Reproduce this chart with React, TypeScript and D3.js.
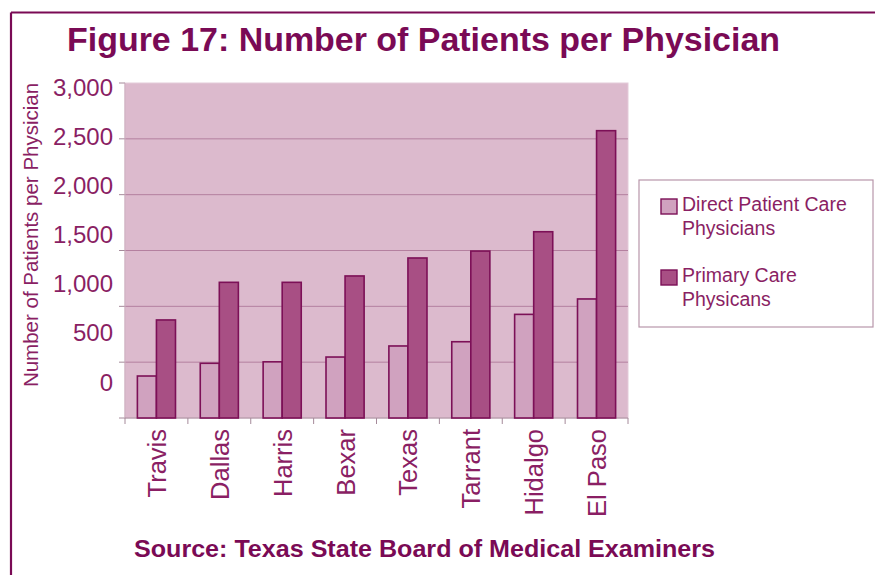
import React from "react";
import * as d3 from "d3";

const categories = ["Travis", "Dallas", "Harris", "Bexar", "Texas", "Tarrant", "Hidalgo", "El Paso"];
const directCare = [376, 490, 503, 546, 645, 683, 928, 1066];
const primaryCare = [878, 1215, 1215, 1272, 1433, 1495, 1668, 2573];
const seriesNames = ["Direct Patient Care|Physicians", "Primary Care|Physicans"];
const yTicks = [0, 500, 1000, 1500, 2000, 2500, 3000];

const W = 875;
const H = 575;
const plot = { left: 125, right: 628, top: 83, bottom: 418 };

const COL_TEXT = "#7a0a55";
const COL_LABEL = "#8a1f64";
const COL_BG = "#dcbacd";
const COL_GRID = "#b4809f";
const COL_LIGHT = "#d0a2bf";
const COL_DARK = "#a84f84";
const COL_STROKE = "#7c1057";

export default function App() {
  const x = d3.scaleBand<string>().domain(categories).range([plot.left, plot.right]).paddingInner(0).paddingOuter(0);
  const y = d3.scaleLinear().domain([0, 3000]).range([plot.bottom, plot.top]);
  // tick labels in the reference are drawn on their own (offset) spacing
  const yLabel = d3.scaleLinear().domain([0, 3000]).range([382, 87]);
  const inner = d3.scaleBand<number>().domain([0, 1]).range([0, x.bandwidth()]).paddingOuter(0.65).paddingInner(0);
  const series = [directCare, primaryCare];
  const fills = [COL_LIGHT, COL_DARK];
  const font = "Liberation Sans, Arial, Helvetica, sans-serif";

  return (
    <svg width={W} height={H} style={{ position: "absolute", left: 0, top: 0, background: "#fff" }} fontFamily={font}>
      <rect x={0} y={0} width={W} height={H} fill="#fff" />
      {/* frame: top and left edges */}
      <line x1={11} y1={12.5} x2={W} y2={12.5} stroke={COL_TEXT} strokeWidth={2.2} />
      <line x1={11} y1={12.5} x2={11} y2={H} stroke={COL_TEXT} strokeWidth={2.2} />

      <text x={67} y={51} fontSize={33} fontWeight="bold" fill={COL_TEXT} textLength={713} lengthAdjust="spacingAndGlyphs">
        Figure 17: Number of Patients per Physician
      </text>

      <rect x={plot.left} y={plot.top} width={plot.right - plot.left} height={plot.bottom - plot.top} fill={COL_BG} stroke="#e4cbd9" strokeWidth={1} />
      {yTicks.filter((t) => t > 0 && t < 3000).map((t) => (
        <line key={t} x1={plot.left} x2={plot.right} y1={y(t)} y2={y(t)} stroke={COL_GRID} strokeWidth={1} />
      ))}
      {/* y axis ticks */}
      {yTicks.map((t) => (
        <line key={"yt" + t} x1={plot.left - 6} x2={plot.left} y1={y(t)} y2={y(t)} stroke="#a58a9a" strokeWidth={1} />
      ))}
      <line x1={plot.left} x2={plot.left} y1={plot.top} y2={plot.bottom} stroke="#c9a9bb" strokeWidth={1} />
      {/* x axis */}
      <line x1={plot.left} x2={plot.right} y1={plot.bottom} y2={plot.bottom} stroke="#a58a9a" strokeWidth={1.2} />
      {categories.concat(["__end"]).map((c, i) => {
        const xx = i < categories.length ? (x(c) as number) : plot.right;
        return <line key={"xt" + i} x1={xx} x2={xx} y1={plot.bottom} y2={plot.bottom + 6} stroke="#a58a9a" strokeWidth={1} />;
      })}

      {/* bars */}
      {categories.map((c, i) => (
        <g key={c} transform={`translate(${x(c)},0)`}>
          {series.map((s, k) => (
            <rect
              key={k}
              x={inner(k)}
              y={y(s[i])}
              width={inner.bandwidth()}
              height={plot.bottom - y(s[i])}
              fill={fills[k]}
              stroke={COL_STROKE}
              strokeWidth={1.6}
            />
          ))}
        </g>
      ))}

      {/* y tick labels */}
      {yTicks.map((t) => (
        <text key={"yl" + t} x={113} y={yLabel(t)} dy="0.36em" textAnchor="end" fontSize={24} fill={COL_LABEL}>
          {d3.format(",")(t)}
        </text>
      ))}
      <text transform={`translate(38,235) rotate(-90)`} textAnchor="middle" fontSize={20.5} fill={COL_LABEL}>
        Number of Patients per Physician
      </text>

      {/* x labels */}
      {categories.map((c) => {
        const cx = (x(c) as number) + x.bandwidth() / 2 + 9.5;
        return (
          <text key={"xl" + c} transform={`translate(${cx},429) rotate(-90)`} textAnchor="end" fontSize={25.5} fill={COL_LABEL}>
            {c}
          </text>
        );
      })}

      {/* legend */}
      <rect x={639} y={180} width={234} height={147} fill="#fff" stroke="#b896aa" strokeWidth={1.2} />
      {seriesNames.map((n, k) => {
        const top = k === 0 ? 199 : 270;
        const lines = n.split("|");
        return (
          <g key={n}>
            <rect x={661} y={top} width={16} height={15} fill={fills[k]} stroke={COL_STROKE} strokeWidth={1.4} />
            {lines.map((l, j) => (
              <text key={j} x={682} y={top + 12 + j * 24} fontSize={19.5} fill={COL_LABEL}>
                {l}
              </text>
            ))}
          </g>
        );
      })}

      <text x={134} y={557} fontSize={24.5} fontWeight="bold" fill={COL_TEXT} textLength={581} lengthAdjust="spacingAndGlyphs">
        Source: Texas State Board of Medical Examiners
      </text>
    </svg>
  );
}
